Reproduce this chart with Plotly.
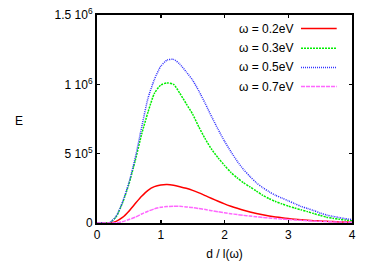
import plotly.graph_objects as go

x_vals = [round(i * 0.1, 1) for i in range(41)]

e_02 = [0, 0, 0.0, 0.012, 0.04, 0.085, 0.14, 0.193, 0.236, 0.262, 0.274, 0.277, 0.272,
        0.262, 0.25, 0.235, 0.217, 0.197, 0.177, 0.157, 0.138, 0.121, 0.106, 0.092,
        0.08, 0.069, 0.059, 0.051, 0.044, 0.038, 0.032, 0.027, 0.023, 0.02, 0.017,
        0.014, 0.012, 0.01, 0.008, 0.007, 0.006]
e_03 = [0, 0, 0.003, 0.045, 0.145, 0.28, 0.45, 0.64, 0.80, 0.935, 0.995, 1.01, 1.0,
        0.935, 0.86, 0.785, 0.69, 0.605, 0.53, 0.47, 0.415, 0.365, 0.325, 0.29, 0.26,
        0.23, 0.2, 0.175, 0.155, 0.138, 0.122, 0.108, 0.095, 0.082, 0.068, 0.055,
        0.042, 0.034, 0.027, 0.021, 0.017]
e_05 = [0, 0, 0.003, 0.048, 0.15, 0.29, 0.47, 0.69, 0.90, 1.035, 1.13, 1.175, 1.18,
        1.145, 1.09, 1.03, 0.95, 0.86, 0.765, 0.675, 0.59, 0.515, 0.445, 0.385, 0.335,
        0.29, 0.255, 0.225, 0.2, 0.18, 0.16, 0.14, 0.12, 0.105, 0.09, 0.072, 0.058,
        0.048, 0.039, 0.031, 0.025]
e_07 = [0, 0, 0, 0.002, 0.01, 0.025, 0.042, 0.065, 0.085, 0.102, 0.113, 0.119, 0.121,
        0.12, 0.116, 0.111, 0.104, 0.097, 0.089, 0.081, 0.074, 0.067, 0.061, 0.055,
        0.05, 0.045, 0.04, 0.036, 0.032, 0.028, 0.025, 0.022, 0.019, 0.016, 0.014,
        0.012, 0.01, 0.008, 0.007, 0.006, 0.005]

series_names = ["ω = 0.2eV", "ω = 0.3eV", "ω = 0.5eV", "ω = 0.7eV"]
series_values = [e_02, e_03, e_05, e_07]
series_colors = ["#ff0000", "#00ee00", "#3333ff", "#ff66ff"]
series_dash = ["solid", "2px,1px", "1px,1px", "4px,1px"]

y_tick_vals = [0, 5e5, 1e6, 1.5e6]
y_tick_text = ["0", "5 10<sup>5</sup>", "1 10<sup>6</sup>", "1.5 10<sup>6</sup>"]
x_tick_vals = [0, 1, 2, 3, 4]

FONT = "Liberation Sans, Arial, sans-serif"

fig = go.Figure()
for name, vals, col, dash in zip(series_names, series_values, series_colors, series_dash):
    fig.add_trace(go.Scatter(
        x=x_vals, y=[v * 1e6 for v in vals], mode="lines", name=name,
        line=dict(color=col, width=1.5, dash=dash, shape="spline", smoothing=0.6),
        showlegend=False, hoverinfo="skip"))

# gnuplot-style key: text right-aligned, line sample to the right
key_y = [0.935, 0.84, 0.748, 0.656]
for name, col, dash, ky in zip(series_names, series_colors, series_dash, key_y):
    fig.add_annotation(x=0.775, y=ky, xref="paper", yref="paper", text=name,
                       showarrow=False, xanchor="right", yanchor="middle",
                       font=dict(family=FONT, size=12, color="black"))
    fig.add_shape(type="line", xref="paper", yref="paper", x0=0.80, x1=0.94,
                  y0=ky, y1=ky, line=dict(color=col, width=1.5, dash=dash))

fig.add_annotation(x=-0.33, y=0.49, xref="paper", yref="paper", text="E",
                   showarrow=False, font=dict(family=FONT, size=12))

fig.update_layout(
    width=374, height=262,
    margin=dict(l=97, r=22, t=15, b=39, autoexpand=False),
    paper_bgcolor="white", plot_bgcolor="white",
    font=dict(family=FONT, size=12, color="black"),
    xaxis=dict(range=[0, 4], tickvals=x_tick_vals, ticks="inside", ticklen=3,
               tickwidth=1.5, tickcolor="black", showline=True, linecolor="black",
               linewidth=2, mirror="ticks", showgrid=False, zeroline=False,
               automargin=False,
               title=dict(text="d / l(ω)", standoff=8, font=dict(size=12))),
    yaxis=dict(range=[0, 1.5e6], tickvals=y_tick_vals, ticktext=y_tick_text,
               ticks="inside", ticklen=3, tickwidth=1.5, tickcolor="black",
               showline=True, linecolor="black", linewidth=2, mirror="ticks",
               showgrid=False, zeroline=False, automargin=False),
)

fig.write_html("out.html", config={"displayModeBar": False, "staticPlot": True},
               post_script="document.body.style.margin='0';document.body.style.overflow='hidden';")
